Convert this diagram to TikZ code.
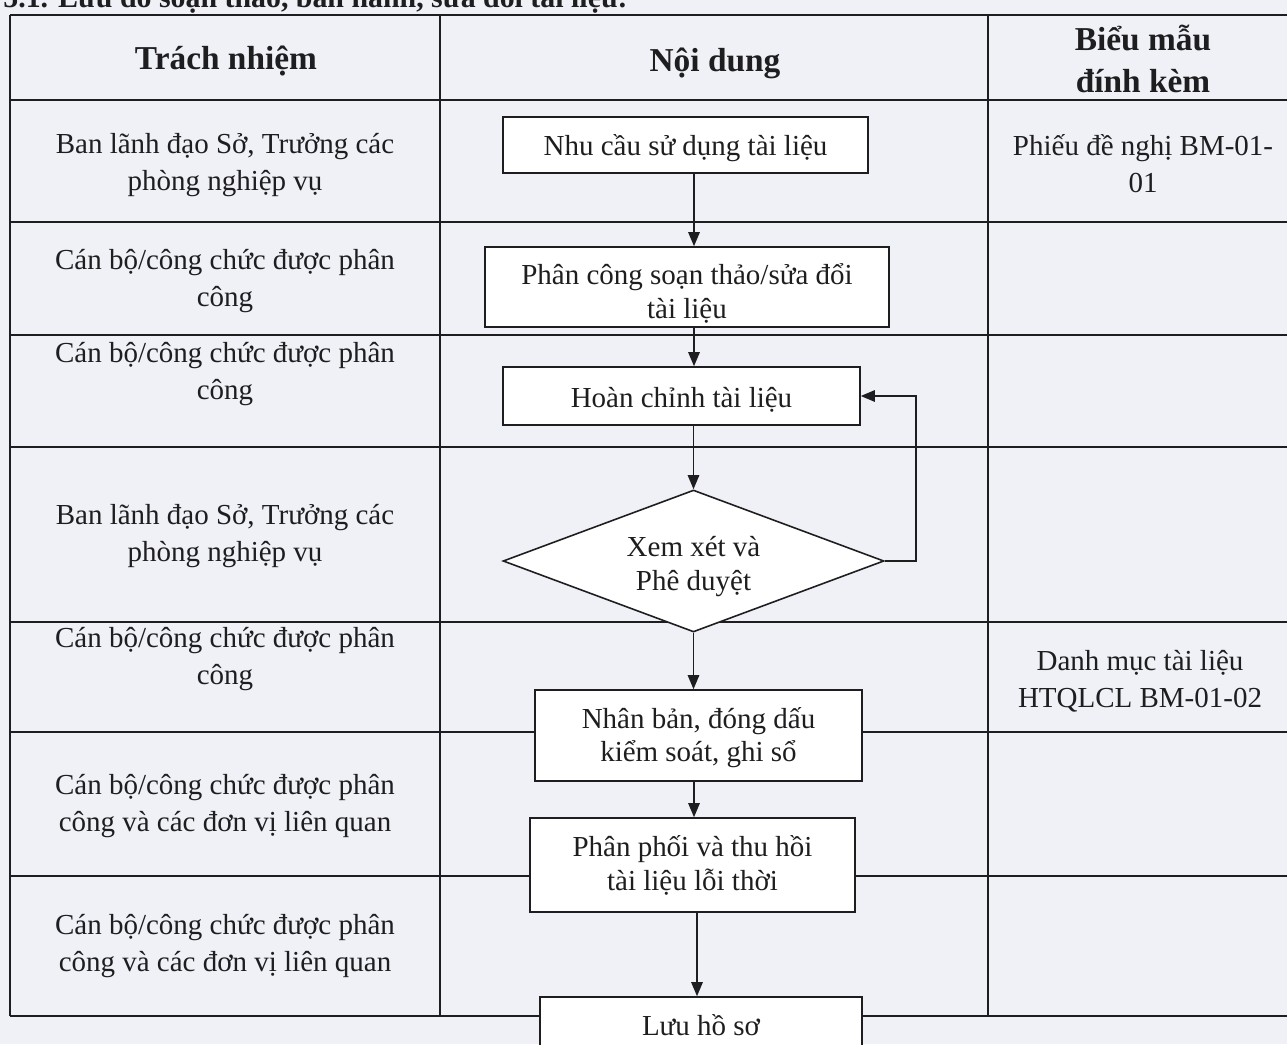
\documentclass[tikz,border=0pt]{standalone}
\usepackage{fontspec}
\setmainfont{Liberation Serif}
\usetikzlibrary{arrows.meta,shapes.geometric}
\definecolor{bg}{RGB}{240,241,246}
\definecolor{ink}{RGB}{30,30,32}
\tikzset{
  grid/.style={draw=ink, line width=0.8pt},
  cell/.style={text=ink, align=center, font=\fontsize{16.5}{21}\selectfont},
  head/.style={text=ink, align=center, font=\fontsize{19}{24}\selectfont\bfseries},
  stepbox/.style={draw=ink, fill=white, line width=0.9pt, inner sep=0pt},
  decide/.style={diamond, aspect=2.7, draw=ink, fill=white, line width=0.9pt, inner sep=0pt},
  boxtxt/.style={align=center, text=ink, inner sep=0pt, font=\fontsize{16.5}{19}\selectfont},
  flow/.style={draw=ink, line width=0.9pt, -{Triangle[length=8pt,width=6.5pt]}},
}
\begin{document}
\begin{tikzpicture}[x=0.02cm,y=-0.02cm]
\useasboundingbox (0,0) rectangle (1287,1044);
\clip (0,0) rectangle (1287,1044);
\fill[bg] (0,0) rectangle (1287,1044);

% cut title at top
\node[anchor=base west, inner sep=0pt, text=ink, font=\fontsize{17}{20}\selectfont\bfseries] (title) at (3,8) {5.1. Lưu đồ soạn thảo, ban hành, sửa đổi tài liệu:};

% table grid
\foreach \yy in {15,100,222,335,447,622,732,876,1016}
  \draw[grid] (10,\yy) -- (1300,\yy);
\foreach \xx in {10,440,988}
  \draw[grid] (\xx,15) -- (\xx,1016);

% headers
\node[head] (h1) at (226,61) {Trách nhiệm};
\node[head] (h2) at (715,63) {Nội dung};
\node[head] (h3) at (1143,59) {Biểu mẫu\\đính kèm};

% responsibility column
\node[cell] (r1) at (225,165) {Ban lãnh đạo Sở, Trưởng các\\phòng nghiệp vụ};
\node[cell] (r2) at (225,281) {Cán bộ/công chức được phân\\công};
\node[cell] (r3) at (225,374) {Cán bộ/công chức được phân\\công};
\node[cell] (r4) at (225,536) {Ban lãnh đạo Sở, Trưởng các\\phòng nghiệp vụ};
\node[cell] (r5) at (225,659) {Cán bộ/công chức được phân\\công};
\node[cell] (r6) at (225,806) {Cán bộ/công chức được phân\\công và các đơn vị liên quan};
\node[cell] (r7) at (225,946) {Cán bộ/công chức được phân\\công và các đơn vị liên quan};

% forms column
\node[cell] (f1) at (1143,164) {Phiếu đề nghị BM-01-\\01};
\node[cell] (f5) at (1140,681) {Danh mục tài liệu\\HTQLCL BM-01-02};

% flow boxes
\node[stepbox, minimum width=7.3cm, minimum height=1.12cm] (b1) at (685.5,145) {};
\node[stepbox, minimum width=8.08cm, minimum height=1.6cm] (b2) at (687,287) {};
\node[stepbox, minimum width=7.14cm, minimum height=1.16cm] (b3) at (681.5,396) {};
\node[decide, minimum width=7.62cm, minimum height=2.84cm] (d) at (693.5,561) {};
\node[stepbox, minimum width=6.54cm, minimum height=1.82cm] (b5) at (698.5,735.5) {};
\node[stepbox, minimum width=6.5cm, minimum height=1.88cm] (b6) at (692.5,865) {};
\node[stepbox, minimum width=6.44cm, minimum height=1.12cm] (b7) at (701,1025) {};

% box texts
\node[boxtxt] (t1) at (685.5,148) {Nhu cầu sử dụng tài liệu};
\node[boxtxt] (t2) at (687,293.5) {Phân công soạn thảo/sửa đổi\\tài liệu};
\node[boxtxt] (t3) at (681.5,400) {Hoàn chỉnh tài liệu};
\node[boxtxt] (td) at (693.5,566.5) {Xem xét và\\Phê duyệt};
\node[boxtxt] (t5) at (698.5,737.5) {Nhân bản, đóng dấu\\kiểm soát, ghi sổ};
\node[boxtxt] (t6) at (692.5,865.5) {Phân phối và thu hồi\\tài liệu lỗi thời};
\node[boxtxt] (t7) at (701,1025) {Lưu hồ sơ};

% connectors
\coordinate (ax) at (694,0);
\coordinate (ax2) at (697,0);
\draw[flow] (b1.south -| ax) -- (b2.north -| ax);
\draw[flow] (b2.south -| ax) -- (b3.north -| ax);
\draw[flow] (b3.south -| d.north) -- (d.north);
\draw[flow] (d.south) -- (b5.north -| d.south);
\draw[flow] (b5.south -| ax) -- (b6.north -| ax);
\draw[flow] (b6.south -| ax2) -- (b7.north -| ax2);
\coordinate (loopx) at (916,0);
\draw[flow] (d.east) -- (d.east -| loopx) |- (b3.east);
\end{tikzpicture}
\end{document}
